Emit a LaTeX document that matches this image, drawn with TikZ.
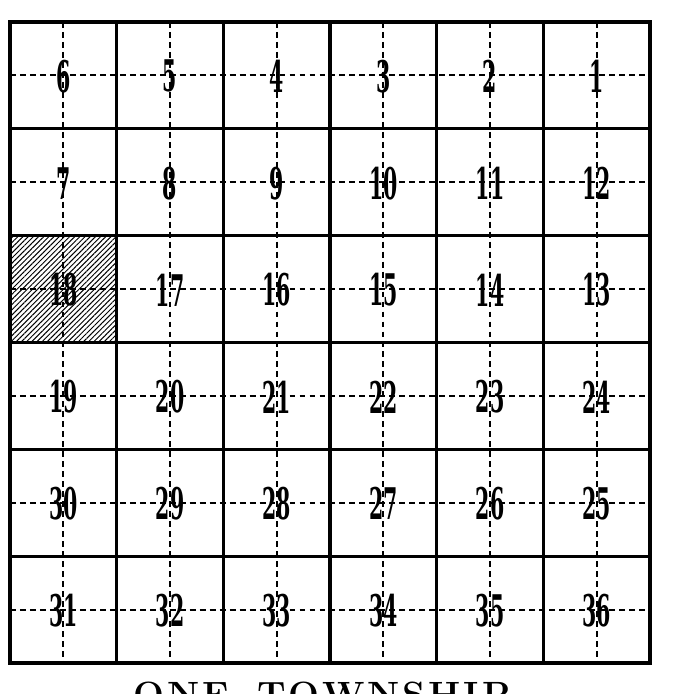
\documentclass[tikz,border=0pt]{standalone}
\usepackage{fontspec}
\usepackage{tikz}
\usetikzlibrary{patterns.meta}
\newfontfamily\secfont{DejaVu Serif}

\tikzset{
  secline/.style={line width=2.2pt},
  midline/.style={line width=1.3pt, dash pattern=on 4.2pt off 2.9pt},
  secnum/.style={font=\secfont\bfseries\fontsize{31}{31}\selectfont, xscale=0.47, inner sep=0pt},
  title/.style={font=\bfseries\fontsize{26}{26}\selectfont, inner sep=0pt}
}

\begin{document}
\begin{tikzpicture}[x=0.025cm,y=-0.025cm]
\useasboundingbox (0,0) rectangle (683,694);
\def\cw{106.667}
\def\ch{106.833}

% hatched section 18
\fill[pattern={Lines[angle=45,distance=2.6pt,line width=0.7pt]}]
  (10,{22+2*\ch}) rectangle (10+\cw,{22+3*\ch});

% quarter lines
\foreach \i in {0,...,5} {
  \draw[midline] ({10+(\i+0.5)*\cw},22) -- ({10+(\i+0.5)*\cw},663);
  \draw[midline] (10,{22+(\i+0.5)*\ch}) -- (650,{22+(\i+0.5)*\ch});
}

% section lines
\foreach \i in {1,...,5} {
  \draw[secline] ({10+\i*\cw},22) -- ({10+\i*\cw},663);
  \draw[secline] (10,{22+\i*\ch}) -- (650,{22+\i*\ch});
}
\draw[secline] (10,22) rectangle (650,663);

% section numbers
\foreach \r in {0,...,5} {
  \foreach \c in {0,...,5} {
    \pgfmathtruncatemacro{\n}{mod(\r,2)==0 ? 6*\r+6-\c : 6*\r+1+\c}
    \node[secnum] (sec\n) at ({10+(\c+0.5)*\cw},{22+(\r+0.5)*\ch+1}) {\n};
  }
}

% caption
\node[title, anchor=north] (caption) at (322,682)
  {O\kern.08em N\kern.08em E\ \ T\kern.08em O\kern.08em W\kern.08em N\kern.08em S\kern.08em H\kern.08em I\kern.08em P};
\end{tikzpicture}
\end{document}
